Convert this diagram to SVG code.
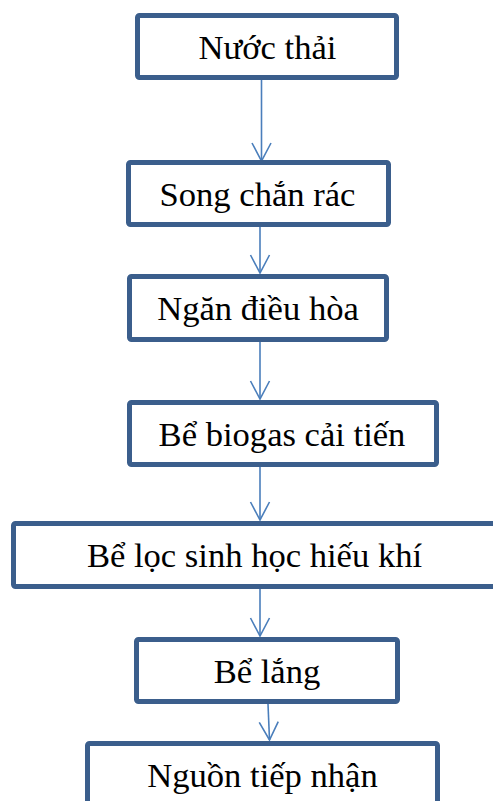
<svg xmlns="http://www.w3.org/2000/svg" width="493" height="801" viewBox="0 0 493 801">
<style>
.box{fill:#ffffff;stroke:#3b5e8c;stroke-width:5}
.lbl{font-family:"Liberation Serif","Times New Roman",serif;font-size:34.6px;fill:#000000;text-anchor:middle}
.conn{stroke:#4a7ebb;stroke-width:1.6;fill:none}
</style>
<defs>
<marker id="v" markerUnits="userSpaceOnUse" markerWidth="24" markerHeight="24" viewBox="-22 -12 24 24" refX="0" refY="0" orient="auto">
<path d="M-18,-9.5 L0,0 L-18,9.5" fill="none" stroke="#4a7ebb" stroke-width="1.6"/>
</marker>
</defs>
<g id="connectors">
<line class="conn" x1="261.5" y1="80" x2="261.5" y2="161" marker-end="url(#v)"/>
<line class="conn" x1="260" y1="227" x2="260" y2="273" marker-end="url(#v)"/>
<line class="conn" x1="260" y1="342" x2="260" y2="399" marker-end="url(#v)"/>
<line class="conn" x1="260" y1="467" x2="260" y2="520" marker-end="url(#v)"/>
<line class="conn" x1="260" y1="589" x2="260" y2="636" marker-end="url(#v)"/>
<line class="conn" x1="268" y1="704" x2="269.5" y2="740" marker-end="url(#v)"/>
</g>
<g id="node1"><rect class="box" x="137.5" y="15.5" width="259" height="62" rx="2"/><text class="lbl" x="267.5" y="58.5">Nước thải</text></g>
<g id="node2"><rect class="box" x="128.5" y="162.5" width="260" height="62" rx="2"/><text class="lbl" x="257.5" y="205.5">Song chắn rác</text></g>
<g id="node3"><rect class="box" x="129.5" y="276.5" width="257" height="63" rx="2"/><text class="lbl" x="258" y="319.5">Ngăn điều hòa</text></g>
<g id="node4"><rect class="box" x="129.5" y="402.5" width="307" height="62" rx="2"/><text class="lbl" x="282" y="445.5">Bể biogas cải tiến</text></g>
<g id="node5"><rect class="box" x="13.5" y="523.5" width="482" height="63" rx="2"/><text class="lbl" x="254.5" y="566.5">Bể lọc sinh học hiếu khí</text></g>
<g id="node6"><rect class="box" x="136.5" y="639.5" width="261" height="62" rx="2"/><text class="lbl" x="267" y="682.5">Bể lắng</text></g>
<g id="node7"><rect class="box" x="87.5" y="743.5" width="350" height="62" rx="2"/><text class="lbl" x="262.5" y="787">Nguồn tiếp nhận</text></g>
</svg>
